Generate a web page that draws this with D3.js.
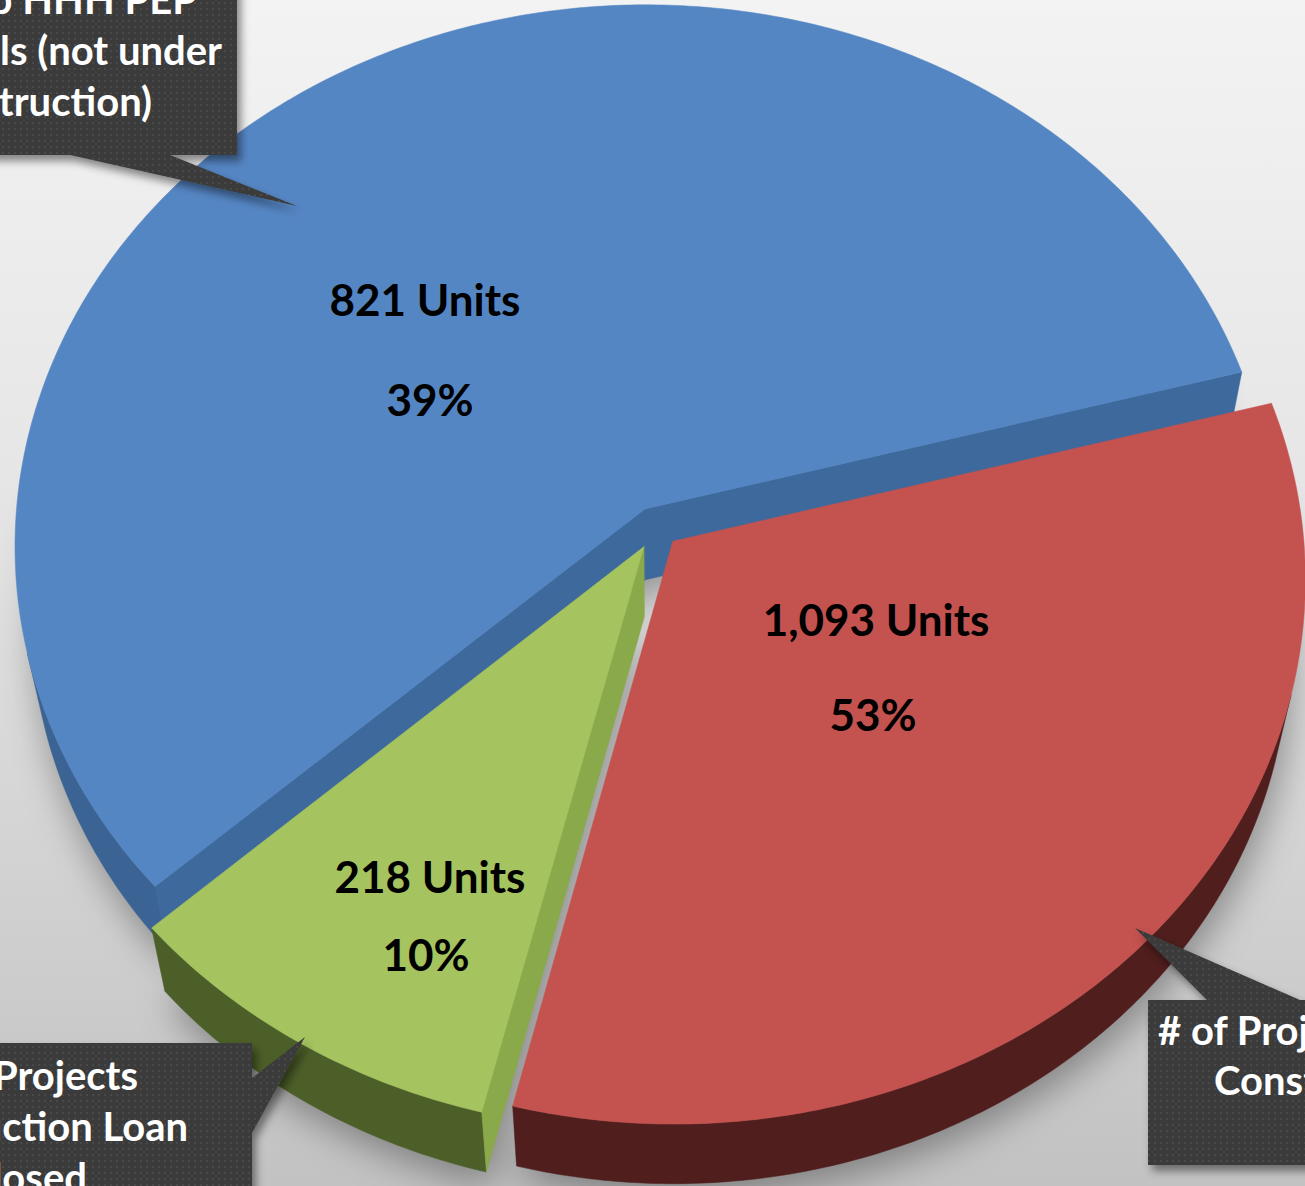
<!DOCTYPE html>
<html><head><meta charset="utf-8">
<script src="https://cdn.jsdelivr.net/npm/d3@7"></script>
<style>html,body{margin:0;padding:0;overflow:hidden;background:#fff}</style>
</head><body>
<svg id="chart" width="1305" height="1186"></svg>
<script>
// ---------------- DATA ----------------
const categories = [
  "# of Projects Under Construction",
  "# of Projects Construction Loan Closed",
  "# of Prop HHH PEP Deals (not under Construction)"
];
// slice sizes
const sliceValues = [13.2, 3.8, 23];
const unitLabels = ["1,093 Units", "218 Units", "821 Units"];
const percentLabels = ["53%", "10%", "39%"];
const calloutLines = [
  ["# of Projects Under", "Construction"],
  ["# of Projects", "Construction Loan", "Closed"],
  ["# of Prop HHH PEP", "Deals (not under", "Construction)"]
];

// ---------------- STYLE / LAYOUT ----------------
const topColors  = ["#c4524f", "#a5c35f", "#5586c4"];
const wallColors = ["#4f1e1d", "#4c5f28", "#3b6394"];
const sideColors = ["#8d3432", "#8aa94b", "#3e699c"];
const explode = [0.035, 0.04, 0.04];
const W = 1305, H = 1186;
const cam = {cx: 657, cy: 528, S: 630, D: 7.5, tilt: 30.8 * Math.PI / 180, h: 0.224};
const labelLayout = [
  {x: 876, y1: 636, x2: 873, y2: 731},
  {x: 430, y1: 893, x2: 426, y2: 971},
  {x: 425, y1: 316, x2: 430, y2: 416}
];

const svg = d3.select("#chart");
const defs = svg.append("defs");

// background gradient
const bg = defs.append("linearGradient").attr("id", "bg").attr("x1", 0).attr("y1", 0).attr("x2", 0).attr("y2", 1);
bg.append("stop").attr("offset", 0).attr("stop-color", "#f3f3f3");
bg.append("stop").attr("offset", 0.4).attr("stop-color", "#e6e6e6");
bg.append("stop").attr("offset", 1).attr("stop-color", "#c2c2c2");
svg.append("rect").attr("width", W).attr("height", H).attr("fill", "url(#bg)");

defs.append("filter").attr("id", "blur").attr("x", -0.3).attr("y", -0.3).attr("width", 1.6).attr("height", 1.6)
  .append("feGaussianBlur").attr("stdDeviation", 18);
const ds = defs.append("filter").attr("id", "boxShadow").attr("x", -0.2).attr("y", -0.2).attr("width", 1.5).attr("height", 1.5);
ds.append("feDropShadow").attr("dx", 4).attr("dy", 6).attr("stdDeviation", 4).attr("flood-color", "#000").attr("flood-opacity", 0.45);
const pat = defs.append("pattern").attr("id", "dots").attr("width", 6).attr("height", 6).attr("patternUnits", "userSpaceOnUse");
pat.append("rect").attr("width", 6).attr("height", 6).attr("fill", "#3a3a3a");
pat.append("rect").attr("x", 2).attr("y", 2).attr("width", 2).attr("height", 2).attr("fill", "#4a4a4a");

// ---------------- 3D PROJECTION ----------------
const ca = Math.cos(cam.tilt), sa = Math.sin(cam.tilt);
const eye = [0, -cam.D * sa, cam.D * ca];
function project(X, Y, Z) {
  const u = Y * ca + Z * sa;
  const w = -Y * sa + Z * ca;
  const s = cam.D / (cam.D - w);
  return [cam.cx + cam.S * X * s, cam.cy - cam.S * u * s];
}
function facing(P, n) {
  return (eye[0] - P[0]) * n[0] + (eye[1] - P[1]) * n[1] + (eye[2] - P[2]) * n[2] > 0;
}
const line = d3.line();

const pie = d3.pie().sort(null).value(d => d)
  .startAngle(75 * Math.PI / 180).endAngle(75 * Math.PI / 180 + 2 * Math.PI);
const arcs = pie(sliceValues);

function geom(d, i) {
  const mid = (d.startAngle + d.endAngle) / 2;
  const ox = explode[i] * Math.sin(mid), oy = explode[i] * Math.cos(mid);
  const n = Math.max(8, Math.round((d.endAngle - d.startAngle) * 90));
  const angs = d3.range(n + 1).map(k => d.startAngle + (d.endAngle - d.startAngle) * k / n);
  const pt = (a, z) => project(ox + Math.sin(a), oy + Math.cos(a), z);
  const visA = angs.filter(a => facing([ox + Math.sin(a), oy + Math.cos(a), 0], [Math.sin(a), Math.cos(a), 0]));
  const a0 = d.startAngle, a1 = d.endAngle;
  return {
    rimTop: angs.map(a => pt(a, 0)),
    visTop: visA.map(a => pt(a, 0)),
    visBot: visA.map(a => pt(a, -cam.h)),
    apexTop: project(ox, oy, 0), apexBot: project(ox, oy, -cam.h),
    r0Top: pt(a0, 0), r0Bot: pt(a0, -cam.h), r1Top: pt(a1, 0), r1Bot: pt(a1, -cam.h),
    vis0: facing([ox, oy, 0], [-Math.cos(a0), Math.sin(a0), 0]),
    vis1: facing([ox, oy, 0], [Math.cos(a1), -Math.sin(a1), 0]),
    bot: angs.map(a => pt(a, -cam.h))
  };
}
const G = arcs.map(geom);

// shadow of pie on background
const shadowG = svg.append("g").attr("filter", "url(#blur)").attr("transform", "translate(4,14)");
G.forEach(g => {
  shadowG.append("path").attr("d", line([g.apexBot, ...g.bot]) + "Z")
    .attr("fill", "#000").attr("opacity", 0.34);
});

// draw slices: far (blue) first, then green, then red
const order = [2, 1, 0];
const pieG = svg.append("g");
order.forEach(i => {
  const g = G[i];
  const sg = pieG.append("g");
  if (g.visTop.length > 1) {
    sg.append("path").attr("d", line([...g.visTop, ...g.visBot.slice().reverse()]) + "Z")
      .attr("fill", wallColors[i]).attr("stroke", wallColors[i]).attr("stroke-width", 0.5);
  }
  if (g.vis0) sg.append("path").attr("d", line([g.apexTop, g.r0Top, g.r0Bot, g.apexBot]) + "Z")
    .attr("fill", sideColors[i]).attr("stroke", sideColors[i]).attr("stroke-width", 0.5);
  if (g.vis1) sg.append("path").attr("d", line([g.apexTop, g.r1Top, g.r1Bot, g.apexBot]) + "Z")
    .attr("fill", sideColors[i]).attr("stroke", sideColors[i]).attr("stroke-width", 0.5);
  sg.append("path").attr("d", line([g.apexTop, ...g.rimTop]) + "Z")
    .attr("fill", topColors[i]).attr("stroke", topColors[i]).attr("stroke-width", 0.5);
});

// data labels
const lab = svg.append("g").attr("font-family", "Lato, 'Open Sans', sans-serif")
  .attr("font-weight", 700).attr("font-size", 44).attr("fill", "#000").attr("text-anchor", "middle");
arcs.forEach((d, i) => {
  lab.append("text").attr("x", labelLayout[i].x).attr("y", labelLayout[i].y1).text(unitLabels[i]);
  lab.append("text").attr("x", labelLayout[i].x2).attr("y", labelLayout[i].y2).text(percentLabels[i]);
});

// ---------------- CALLOUTS ----------------
const callouts = [
  {cat: 0, path: [[1148,1000],[1207,1000],[1135,928],[1300,1000],[1330,1000],[1330,1165],[1148,1165]],
   anchor: "start", xs: [1158, 1214], ys: [1045, 1095]},
  {cat: 1, path: [[-30,1043],[252,1043],[252,1078],[305,1037],[252,1133],[252,1220],[-30,1220]],
   anchor: "end", xs: [138, 188, 87], ys: [1090, 1141, 1192]},
  {cat: 2, path: [[-30,-30],[237,-30],[237,155],[170,155],[297,206],[70,155],[-30,155]],
   anchor: "end", xs: [197, 222, 152], ys: [14, 65, 116]}
];
const cg = svg.append("g");
callouts.forEach(c => {
  cg.append("path").attr("d", line(c.path) + "Z").attr("fill", "url(#dots)").attr("filter", "url(#boxShadow)");
  const t = cg.append("g").attr("font-family", "Lato, 'Open Sans', sans-serif").attr("font-weight", 700)
    .attr("font-size", 40).attr("fill", "#fff").attr("text-anchor", c.anchor);
  calloutLines[c.cat].forEach((s, k) => t.append("text").attr("x", c.xs[k]).attr("y", c.ys[k]).text(s));
});
</script>
</body></html>
